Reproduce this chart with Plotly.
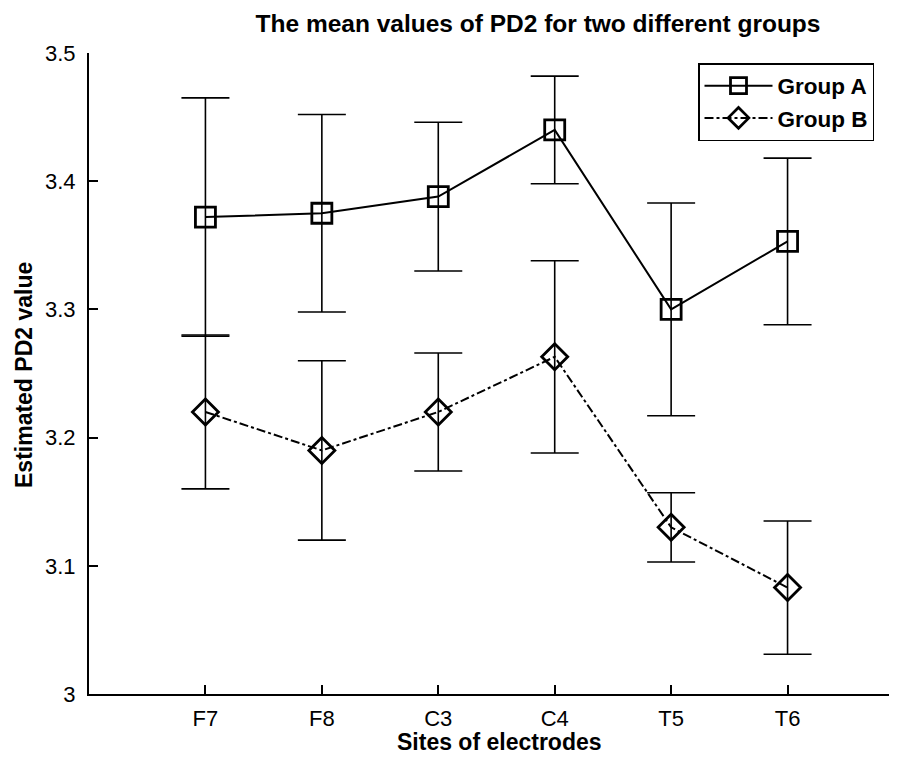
import plotly.graph_objects as go

sites = ["F7", "F8", "C3", "C4", "T5", "T6"]
mean_a = [3.372, 3.375, 3.388, 3.440, 3.300, 3.353]
err_a = [0.093, 0.077, 0.058, 0.042, 0.083, 0.065]
mean_b = [3.220, 3.190, 3.220, 3.263, 3.130, 3.083]
err_b = [0.060, 0.070, 0.046, 0.075, 0.027, 0.052]
y_ticks = [3.0, 3.1, 3.2, 3.3, 3.4, 3.5]
y_tick_text = ["3", "3.1", "3.2", "3.3", "3.4", "3.5"]

xpos = list(range(1, len(sites) + 1))
font = "Liberation Sans, Arial, sans-serif"

# page body has an 8px margin, so the figure is sized to fit the 897x758 window
W, H = 889, 750
ML, MR, MT, MB = 81, 0, 45, 64
PW, PH = W - ML - MR, H - MT - MB

fig = go.Figure()
fig.add_trace(go.Scatter(
    x=xpos, y=mean_a, name="Group A", mode="lines+markers",
    line=dict(color="black", width=2, dash="solid"),
    marker=dict(symbol="square-open", size=20, color="black", line=dict(width=2.8, color="black")),
    error_y=dict(type="data", array=err_a, visible=True, color="black", thickness=1.6, width=24),
))
fig.add_trace(go.Scatter(
    x=xpos, y=mean_b, name="Group B", mode="lines+markers",
    line=dict(color="black", width=2, dash="dashdot"),
    marker=dict(symbol="diamond-open", size=20, color="black", line=dict(width=2.8, color="black")),
    error_y=dict(type="data", array=err_b, visible=True, color="black", thickness=1.6, width=24),
))

fig.update_layout(
    width=W, height=H,
    paper_bgcolor="white", plot_bgcolor="white",
    margin=dict(l=ML, r=MR, t=MT, b=MB, autoexpand=False),
    showlegend=True,
    title=dict(text="<b>The mean values of PD2 for two different groups</b>",
               x=494 / W, xanchor="center", xref="paper", y=1 - 15 / H, yanchor="middle",
               font=dict(family=font, size=24.5, color="black")),
    legend=dict(x=(690 - ML) / PW, y=(H - MB - 55) / PH,
                xanchor="left", yanchor="top",
                bgcolor="white", bordercolor="black", borderwidth=1.5,
                font=dict(family=font, size=22.5, color="black", weight="bold"),
                itemwidth=68, entrywidth=118, entrywidthmode="pixels", tracegroupgap=0),
    xaxis=dict(range=[0, 6.94], tickmode="array", tickvals=xpos, ticktext=sites,
               ticks="inside", ticklen=9, tickwidth=1.5, tickcolor="black",
               showline=True, linecolor="black", linewidth=2, mirror=False,
               showgrid=False, zeroline=False, automargin=False,
               ticklabelstandoff=4,
               tickfont=dict(family=font, size=22, color="black")),
    yaxis=dict(range=[3.0, 3.5], tickmode="array", tickvals=y_ticks, ticktext=y_tick_text,
               ticks="inside", ticklen=9, tickwidth=1.5, tickcolor="black",
               showline=True, linecolor="black", linewidth=2, mirror=False,
               showgrid=False, zeroline=False, automargin=False,
               ticklabelstandoff=7,
               tickfont=dict(family=font, size=22, color="black")),
    annotations=[
        dict(text="<b>Sites of electrodes</b>", xref="paper", yref="paper",
             x=(491 - ML) / PW, y=-(734 - (H - MB)) / PH,
             xanchor="center", yanchor="middle", showarrow=False,
             font=dict(family=font, size=23, color="black")),
        dict(text="<b>Estimated PD2 value</b>", xref="paper", yref="paper",
             x=-(ML - 16) / PW, y=((H - MB) - 367) / PH,
             xanchor="center", yanchor="middle", textangle=-90, showarrow=False,
             font=dict(family=font, size=23, color="black")),
    ],
)

fig.write_html("out.html")
